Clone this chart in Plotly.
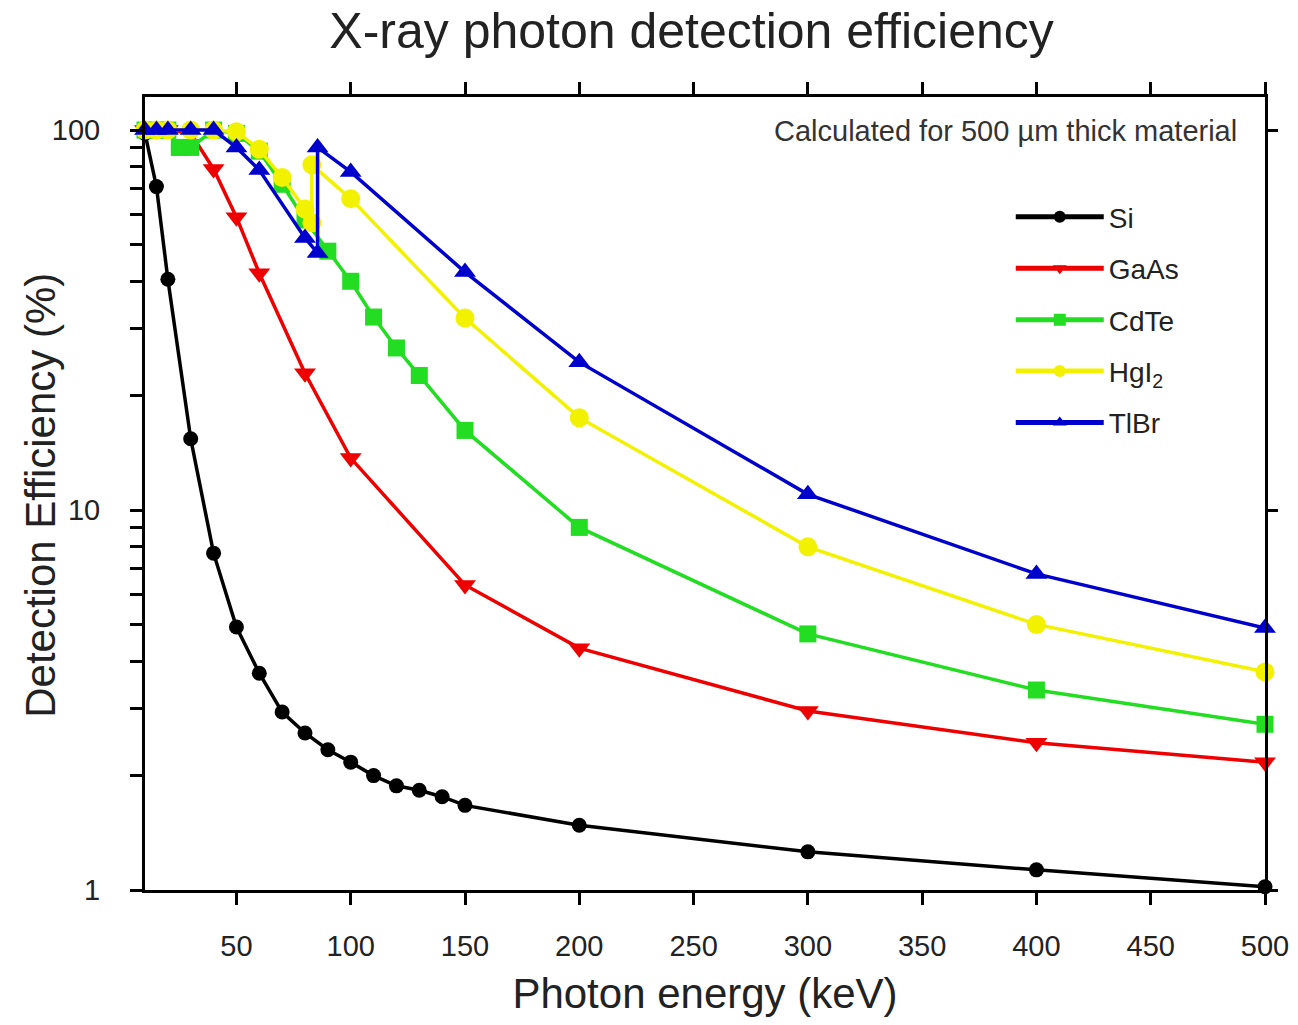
import plotly.graph_objects as go

# ---------------- data ----------------
si_x = [10, 15, 20, 30, 40, 50, 60, 70, 80, 90, 100, 110, 120, 130, 140, 150, 200, 300, 400, 500]
si_y = [98, 71, 40.5, 15.4, 7.7, 4.92, 3.72, 2.94, 2.59, 2.34, 2.17, 2.0, 1.88, 1.83, 1.76, 1.67, 1.48, 1.26, 1.13, 1.02]

gaas_x = [10, 15, 20, 30, 40, 50, 60, 80, 100, 150, 200, 300, 400, 500]
gaas_y = [100, 100, 100, 98, 79, 59, 42, 22.9, 13.7, 6.35, 4.33, 2.96, 2.44, 2.17]

cdte_x = [10, 15, 20, 25, 30, 40, 50, 60, 70, 80, 90, 100, 110, 120, 130, 150, 200, 300, 400, 500]
cdte_y = [100, 100, 100, 90, 90, 100, 98, 88, 72, 58, 48, 40, 32.2, 26.7, 22.6, 16.2, 9.0, 4.72, 3.36, 2.73]

hgi2_x = [10, 15, 20, 30, 40, 50, 60, 70, 80, 83, 83, 100, 150, 200, 300, 400, 500]
hgi2_y = [100, 100, 100, 100, 100, 99, 89, 75, 62, 57, 81, 66, 32, 17.5, 8.0, 5.0, 3.75]

tlbr_x = [10, 15, 20, 30, 40, 50, 60, 80, 85.5, 85.5, 100, 150, 200, 300, 400, 500]
tlbr_y = [100, 100, 100, 100, 100, 90, 78.5, 52, 47.5, 90, 77.6, 42.3, 24.5, 11.0, 6.79, 4.89]

x_ticks = [50, 100, 150, 200, 250, 300, 350, 400, 450, 500]
y_tickvals = [1, 2, 3, 4, 5, 6, 7, 8, 9, 10, 20, 30, 40, 50, 60, 70, 80, 90, 100]
y_ticktext = ["1", " ", " ", " ", " ", " ", " ", " ", " ", "10", " ", " ", " ", " ", " ", " ", " ", " ", "100"]

FONT = "Liberation Sans, Arial, sans-serif"
TXT = "#222222"

series = [
    ("Si", si_x, si_y, "#000000", "circle", 15),
    ("GaAs", gaas_x, gaas_y, "#ee0000", "triangle-down", 19),
    ("CdTe", cdte_x, cdte_y, "#22dd22", "square", 17),
    ("HgI<sub>2</sub>", hgi2_x, hgi2_y, "#f2f200", "circle", 19),
    ("TlBr", tlbr_x, tlbr_y, "#0000cc", "triangle-up", 19),
]

fig = go.Figure()
for i, (name, xs, ys, col, sym, sz) in enumerate(series):
    fig.add_trace(go.Scatter(
        x=xs, y=ys, name=name, mode="lines+markers",
        line=dict(color=col, width=3.5),
        marker=dict(symbol=sym, size=sz, color=col, line=dict(width=0)),
        cliponaxis=False, legendgroup=f"g{i}",
    ))

# empty trace to carry the right-hand axis ticks
fig.add_trace(go.Scatter(x=[], y=[], yaxis="y2", showlegend=False, hoverinfo="skip"))

yr = [0, 2.087]
fig.update_layout(
    width=1298, height=1025,
    margin=dict(l=145, r=33, t=97, b=135, autoexpand=False),
    paper_bgcolor="white", plot_bgcolor="white",
    font=dict(family=FONT, color=TXT),
    title=dict(text="X-ray photon detection efficiency", x=0.488, xref="paper",
               y=0.97, yref="container", yanchor="middle", xanchor="center",
               font=dict(size=50, family=FONT, color=TXT)),
    xaxis=dict(range=[10, 500], tickvals=x_ticks, ticks="outside", ticklen=12, tickwidth=3,
               tickcolor="black", showline=True, linewidth=3, linecolor="black", mirror="ticks",
               showgrid=False, zeroline=False, tickfont=dict(size=29, family=FONT, color=TXT),
               ticklabelstandoff=16, automargin=False,
               title=dict(text="Photon energy (keV)", font=dict(size=42, family=FONT, color=TXT),
                          standoff=18)),
    yaxis=dict(type="log", range=yr, tickvals=y_tickvals, ticktext=y_ticktext, ticks="outside",
               ticklen=12, tickwidth=3, tickcolor="black", showline=True, linewidth=3,
               linecolor="black", mirror=True, showgrid=False, zeroline=False, automargin=False,
               tickfont=dict(size=29, family=FONT, color=TXT), ticklabelstandoff=24),
    yaxis2=dict(type="log", range=yr, overlaying="y", side="right", tickvals=[1, 10, 100],
                ticks="outside", ticklen=12, tickwidth=3, tickcolor="black", automargin=False,
                showticklabels=False, showline=False, showgrid=False, zeroline=False),
    legend=dict(x=0.773, y=0.88, xanchor="left", yanchor="top", bgcolor="rgba(255,255,255,0)",
                font=dict(size=28, family=FONT, color=TXT), itemwidth=88, itemsizing="constant",
                tracegroupgap=12, traceorder="grouped"),
    showlegend=True,
)

# y-axis title placed as an annotation so it can sit as close as in the reference
fig.add_annotation(text="Detection Efficiency (%)", xref="paper", yref="paper",
                   x=-0.094, y=0.498, xanchor="center", yanchor="middle", textangle=-90,
                   showarrow=False, font=dict(size=42, family=FONT, color=TXT))

fig.add_annotation(text="Calculated for 500 \u00b5m thick material", xref="paper", yref="paper",
                   x=0.977, y=0.957, xanchor="right", yanchor="middle", showarrow=False,
                   font=dict(size=29, family=FONT, color="#333333"))

fig.write_html("out.html")
